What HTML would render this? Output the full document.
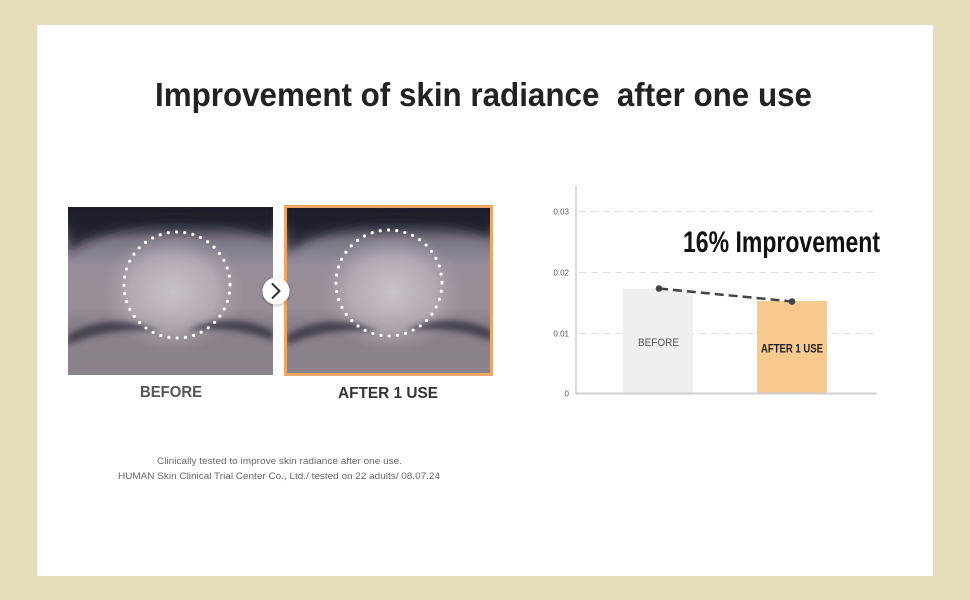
<!DOCTYPE html>
<html>
<head>
<meta charset="utf-8">
<style>
html,body{margin:0;padding:0;background:#e6dcbb;}
svg{display:block;}
text{font-family:"Liberation Sans",sans-serif;}
</style>
</head>
<body>
<svg width="970" height="600" viewBox="0 0 970 600" xmlns="http://www.w3.org/2000/svg">
<defs>
  <linearGradient id="skin" x1="0" y1="0" x2="0" y2="1">
    <stop offset="0" stop-color="#181a26"/>
    <stop offset="0.09" stop-color="#2a2c3a"/>
    <stop offset="0.2" stop-color="#7a7483"/>
    <stop offset="0.35" stop-color="#968d98"/>
    <stop offset="0.6" stop-color="#988e98"/>
    <stop offset="0.7" stop-color="#877e88"/>
    <stop offset="0.85" stop-color="#8a818a"/>
    <stop offset="1" stop-color="#8d848d"/>
  </linearGradient>
  <radialGradient id="glow" cx="0.5" cy="0.5" r="0.5">
    <stop offset="0" stop-color="#d2cad3" stop-opacity="0.85"/>
    <stop offset="0.6" stop-color="#c4bbc5" stop-opacity="0.6"/>
    <stop offset="1" stop-color="#aca2ad" stop-opacity="0"/>
  </radialGradient>
  <filter id="blur" x="-20%" y="-50%" width="140%" height="200%"><feGaussianBlur stdDeviation="3"/></filter>
  <filter id="blur2" x="-20%" y="-50%" width="140%" height="200%"><feGaussianBlur stdDeviation="5"/></filter>
  <filter id="sh" x="-50%" y="-50%" width="200%" height="200%"><feDropShadow dx="0" dy="1" stdDeviation="1.5" flood-color="#000" flood-opacity="0.3"/></filter>
  <g id="face">
    <rect x="0" y="0" width="205" height="168" fill="url(#skin)"/>
    <path d="M0 0 H205 V30 C180 22 160 14 140 16 C110 12 80 14 60 20 C35 26 15 35 0 45 Z" fill="#1c1e2a" filter="url(#blur2)" opacity="0.85"/>
    <ellipse cx="105" cy="85" rx="72" ry="62" fill="url(#glow)"/>
    <path d="M0 128 C25 112 60 110 92 125 C70 122 35 122 0 138 Z" fill="#3d3944" filter="url(#blur)" opacity="0.85"/>
    <path d="M205 124 C180 110 145 110 118 124 C140 121 175 121 205 134 Z" fill="#3d3944" filter="url(#blur)" opacity="0.85"/>
    <rect x="0" y="140" width="205" height="28" fill="#8a8189" opacity="0.5"/>
  </g>
  <clipPath id="c1"><rect x="68" y="207" width="205" height="168"/></clipPath>
  <clipPath id="c2"><rect x="287" y="207" width="205" height="167"/></clipPath>
</defs>

<!-- panel -->
<rect x="0" y="0" width="970" height="600" fill="#e6dcbb"/>
<rect x="37" y="25" width="896" height="551" fill="#ffffff"/>

<!-- title -->
<text x="155" y="106" font-size="33" font-weight="bold" fill="#222" xml:space="preserve" textLength="657" lengthAdjust="spacingAndGlyphs">Improvement of skin radiance  after one use</text>

<!-- before photo -->
<g clip-path="url(#c1)"><use href="#face" x="68" y="207"/></g>
<circle cx="177" cy="285" r="53" fill="none" stroke="#fff" stroke-width="3.2" stroke-linecap="round" stroke-dasharray="0 8.3"/>

<!-- after photo -->
<g clip-path="url(#c2)"><use href="#face" x="287" y="207"/></g>
<rect x="285.5" y="206.5" width="206" height="168" fill="none" stroke="#eda665" stroke-width="3"/>
<circle cx="389" cy="283" r="53" fill="none" stroke="#fff" stroke-width="3.2" stroke-linecap="round" stroke-dasharray="0 8.3"/>

<!-- arrow -->
<circle cx="276" cy="291" r="13.5" fill="#fff" filter="url(#sh)"/>
<path d="M272.5 284 L279.5 291 L272.5 298" fill="none" stroke="#333" stroke-width="2" stroke-linecap="round" stroke-linejoin="round"/>

<!-- photo labels -->
<text x="140" y="397" font-size="16" font-weight="bold" fill="#555" textLength="62" lengthAdjust="spacingAndGlyphs">BEFORE</text>
<text x="338" y="398" font-size="16" font-weight="bold" fill="#333" textLength="100" lengthAdjust="spacingAndGlyphs">AFTER 1 USE</text>

<!-- footnote -->
<text x="157" y="464" font-size="9" fill="#666" textLength="245" lengthAdjust="spacingAndGlyphs">Clinically tested to improve skin radiance after one use.</text>
<text x="118" y="479" font-size="9" fill="#666" textLength="322" lengthAdjust="spacingAndGlyphs">HUMAN Skin Clinical Trial Center Co., Ltd./ tested on 22 adults/ 08.07.24</text>

<!-- chart -->
<g stroke="#dedede" stroke-width="1" stroke-dasharray="7 5">
  <line x1="579" y1="211.5" x2="877" y2="211.5"/>
  <line x1="579" y1="272.5" x2="877" y2="272.5"/>
  <line x1="579" y1="333.5" x2="877" y2="333.5"/>
</g>
<rect x="623" y="288.5" width="70" height="104.5" fill="#efefef"/>
<rect x="757" y="301" width="70" height="92" fill="#f6c98f"/>
<line x1="576" y1="185" x2="576" y2="394" stroke="#cfcfcf" stroke-width="1.5"/>
<line x1="576" y1="393.5" x2="877" y2="393.5" stroke="#cfcfcf" stroke-width="2"/>

<g font-size="8" fill="#555" text-anchor="end">
  <text x="569" y="214.5">0.03</text>
  <text x="569" y="275.5">0.02</text>
  <text x="569" y="336.5">0.01</text>
  <text x="569" y="396.5">0</text>
</g>

<line x1="659" y1="288.5" x2="792" y2="301.5" stroke="#444" stroke-width="2.5" stroke-dasharray="9 5"/>
<circle cx="659" cy="288.5" r="3.3" fill="#444"/>
<circle cx="792" cy="301.5" r="3.3" fill="#444"/>

<text x="683" y="252" font-size="30" font-weight="bold" fill="#111" textLength="197" lengthAdjust="spacingAndGlyphs">16% Improvement</text>
<text x="638" y="346" font-size="11" fill="#555" textLength="41" lengthAdjust="spacingAndGlyphs">BEFORE</text>
<text x="761" y="352.5" font-size="11.5" font-weight="bold" fill="#222" textLength="62" lengthAdjust="spacingAndGlyphs">AFTER 1 USE</text>
</svg>
</body>
</html>
